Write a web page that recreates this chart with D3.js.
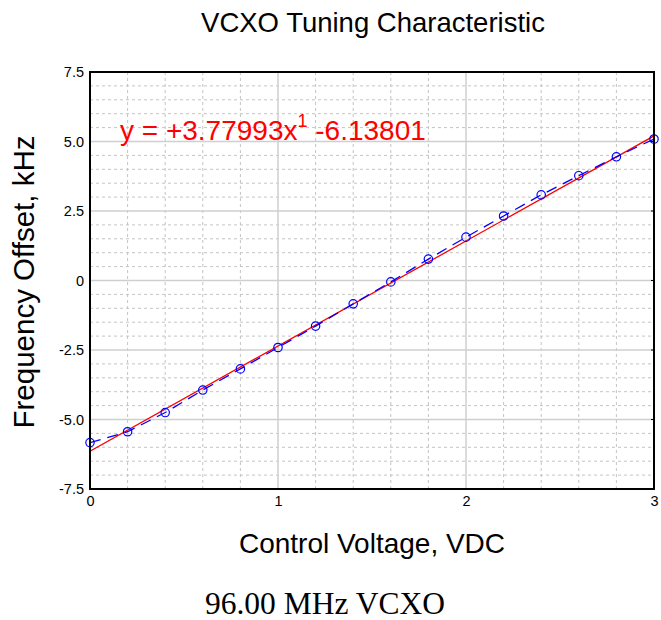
<!DOCTYPE html>
<html>
<head>
<meta charset="utf-8">
<script src="https://cdn.jsdelivr.net/npm/d3@7"></script>
<style>
  html, body { margin: 0; padding: 0; background: #fff; }
  svg { display: block; font-family: "Liberation Sans", Arial, sans-serif; }
</style>
</head>
<body>
<svg id="chart" width="661" height="620"></svg>
<script>
// Measured control voltage (V) and frequency offset (kHz)
const voltages = [0, 0.2, 0.4, 0.6, 0.8, 1.0, 1.2, 1.4, 1.6, 1.8, 2.0, 2.2, 2.4, 2.6, 2.8, 3.0];
const offsets  = [-5.83, -5.44, -4.75, -3.94, -3.18, -2.41, -1.64, -0.84, -0.05, 0.77, 1.56, 2.32, 3.08, 3.77, 4.45, 5.09];

// Linear fit coefficients
const slope = 3.77993;
const intercept = -6.13801;

const xTicks = [0, 1, 2, 3];
const yTicks = [-7.5, -5.0, -2.5, 0, 2.5, 5.0, 7.5];
const yTickLabels = ["-7.5", "-5.0", "-2.5", "0", "2.5", "5.0", "7.5"];

const titleText = "VCXO Tuning Characteristic";
const xLabel = "Control Voltage, VDC";
const yLabel = "Frequency Offset, kHz";
const footer = "96.00 MHz VCXO";

const svg = d3.select("#chart");
const m = { left: 90, right: 654, top: 72, bottom: 489 };

const x = d3.scaleLinear().domain([0, 3]).range([m.left, m.right]);
const y = d3.scaleLinear().domain([-7.5, 7.5]).range([m.bottom, m.top]);

// Minor dashed grid
const xMinor = d3.range(0, 3.0001, 0.2).filter(v => Math.abs(v - Math.round(v)) > 1e-6);
const yMinor = d3.range(-7.5, 7.5001, 0.5).filter(v => Math.abs(v / 2.5 - Math.round(v / 2.5)) > 1e-6);
const grid = svg.append("g");
grid.selectAll(".vx").data(xMinor).join("line")
  .attr("x1", d => x(d)).attr("x2", d => x(d))
  .attr("y1", m.top).attr("y2", m.bottom)
  .attr("stroke", "#c4c4c4").attr("stroke-width", 1).attr("stroke-dasharray", "3,3");
grid.selectAll(".hy").data(yMinor).join("line")
  .attr("y1", d => y(d)).attr("y2", d => y(d))
  .attr("x1", m.left).attr("x2", m.right)
  .attr("stroke", "#c4c4c4").attr("stroke-width", 1).attr("stroke-dasharray", "3,3");

// Major solid grid
grid.selectAll(".mx").data(xTicks.slice(1, -1)).join("line")
  .attr("x1", d => x(d)).attr("x2", d => x(d))
  .attr("y1", m.top).attr("y2", m.bottom)
  .attr("stroke", "#cfcfcf").attr("stroke-width", 1.5);
grid.selectAll(".my").data(yTicks.slice(1, -1)).join("line")
  .attr("y1", d => y(d)).attr("y2", d => y(d))
  .attr("x1", m.left).attr("x2", m.right)
  .attr("stroke", "#cfcfcf").attr("stroke-width", 1.5);

// Axes
const xAxis = d3.axisBottom(x).tickValues(xTicks).tickSize(0).tickPadding(7).tickFormat(d3.format("d"));
const yAxis = d3.axisLeft(y).tickValues(yTicks).tickSize(0).tickPadding(6)
  .tickFormat((d, i) => yTickLabels[i]);

const gx = svg.append("g").attr("transform", `translate(0,${m.bottom})`).call(xAxis);
gx.select(".domain").remove();
gx.selectAll("text").attr("font-size", 14.5).attr("fill", "#000")
  .attr("font-family", "Liberation Sans, Arial, sans-serif");

const gy = svg.append("g").attr("transform", `translate(${m.left},0)`).call(yAxis);
gy.select(".domain").remove();
gy.selectAll("text").attr("font-size", 14.5).attr("fill", "#000")
  .attr("font-family", "Liberation Sans, Arial, sans-serif");

// Right-side inward ticks
svg.append("g").selectAll("line").data(yTicks.slice(1, -1)).join("line")
  .attr("x1", m.right - 3).attr("x2", m.right)
  .attr("y1", d => y(d)).attr("y2", d => y(d))
  .attr("stroke", "#000").attr("stroke-width", 1);

// Fitted line
svg.append("clipPath").attr("id", "plotClip").append("rect")
  .attr("x", m.left).attr("y", m.top).attr("width", m.right - m.left).attr("height", m.bottom - m.top);
const plot = svg.append("g").attr("clip-path", "url(#plotClip)");
const fitLine = d3.line().x(d => x(d)).y(d => y(slope * d + intercept));
plot.append("path").datum([0, 3]).attr("d", fitLine)
  .attr("fill", "none").attr("stroke", "#ff0000").attr("stroke-width", 1.3);

// Measured data: dashed line and circle markers
const pts = voltages.map((v, i) => [v, offsets[i]]);
plot.append("path").datum(pts)
  .attr("d", d3.line().x(d => x(d[0])).y(d => y(d[1])))
  .attr("fill", "none").attr("stroke", "#0000ff").attr("stroke-width", 1.3)
  .attr("stroke-dasharray", "11,7");
svg.append("g").selectAll("circle").data(pts).join("circle")
  .attr("cx", d => x(d[0])).attr("cy", d => y(d[1])).attr("r", 4.2)
  .attr("fill", "none").attr("stroke", "#0000ff").attr("stroke-width", 1.2);

// Frame
svg.append("rect").attr("x", m.left).attr("y", m.top)
  .attr("width", m.right - m.left).attr("height", m.bottom - m.top)
  .attr("fill", "none").attr("stroke", "#000").attr("stroke-width", 2);

// Fit equation
const eq = svg.append("text").attr("x", 120).attr("y", 140)
  .attr("fill", "#ff0000").attr("font-size", 28);
eq.append("tspan").text("y = +" + slope.toFixed(5) + "x");
eq.append("tspan").attr("font-size", 18).attr("dy", -13).text("1");
eq.append("tspan").attr("dy", 13).text(" " + intercept.toFixed(5));

// Titles
svg.append("text").attr("x", 373).attr("y", 32).attr("text-anchor", "middle")
  .attr("font-size", 27.5).attr("fill", "#000").text(titleText);
svg.append("text").attr("x", 372).attr("y", 553).attr("text-anchor", "middle")
  .attr("font-size", 28).attr("fill", "#000").text(xLabel);
svg.append("text").attr("transform", "translate(34,282) rotate(-90)").attr("text-anchor", "middle")
  .attr("font-size", 29.5).attr("fill", "#000").text(yLabel);
svg.append("text").attr("x", 325).attr("y", 614).attr("text-anchor", "middle")
  .attr("font-family", "Liberation Serif, Times New Roman, serif")
  .attr("font-size", 31.5).attr("fill", "#000").text(footer);
</script>
</body>
</html>
